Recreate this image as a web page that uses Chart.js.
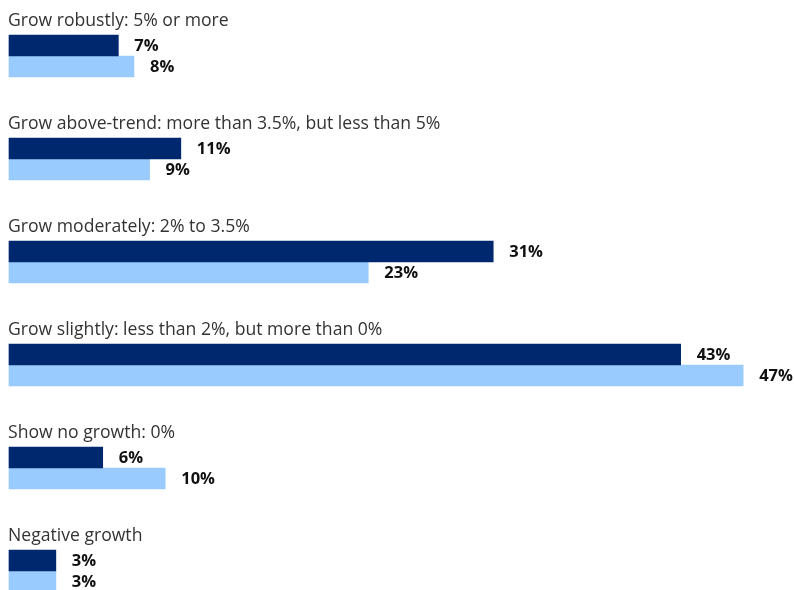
<!DOCTYPE html>
<html lang="en">
<head>
<meta charset="UTF-8">
<title>Growth expectations</title>
<script src="https://cdn.jsdelivr.net/npm/chart.js@4/dist/chart.umd.min.js"></script>
<style>
  html, body { margin: 0; padding: 0; background: #fff; }
  #wrap { width: 794px; height: 590px; position: relative; }
</style>
</head>
<body>
<div id="wrap"><canvas id="chart"></canvas></div>
<script>
// categories and answer shares (%)
const categories = [
  'Grow robustly: 5% or more',
  'Grow above-trend: more than 3.5%, but less than 5%',
  'Grow moderately: 2% to 3.5%',
  'Grow slightly: less than 2%, but more than 0%',
  'Show no growth: 0%',
  'Negative growth'
];
const latestShares = [7, 11, 31, 43, 6, 3];
const previousShares = [8, 9, 23, 47, 10, 3];

const darkBlue = '#00286e';
const lightBlue = '#9acbff';
const fontFamily = '"Open Sans", "Noto Sans", sans-serif';

// writes the category name above each pair of bars and the value to the right of each bar
const barLabels = {
  id: 'barLabels',
  afterDatasetsDraw(chart) {
    const ctx = chart.ctx;
    const yScale = chart.scales.y;
    ctx.save();
    ctx.textBaseline = 'middle';
    ctx.textAlign = 'left';

    ctx.font = '17.6px ' + fontFamily;
    ctx.fillStyle = '#333';
    categories.forEach((name, i) => {
      ctx.fillText(name, 8, yScale.getPixelForValue(i) - 35.5);
    });

    ctx.font = 'bold 16.5px ' + fontFamily;
    ctx.fillStyle = '#111';
    chart.data.datasets.forEach((ds, d) => {
      chart.getDatasetMeta(d).data.forEach((bar, i) => {
        ctx.fillText(ds.data[i] + '%', bar.x + 16, bar.y + 1);
      });
    });
    ctx.restore();
  }
};

new Chart(document.getElementById('chart'), {
  type: 'bar',
  data: {
    labels: categories,
    datasets: [
      { label: 'Latest', data: latestShares, backgroundColor: darkBlue },
      { label: 'Previous', data: previousShares, backgroundColor: lightBlue }
    ]
  },
  options: {
    indexAxis: 'y',
    responsive: true,
    maintainAspectRatio: false,
    animation: false,
    barThickness: 21,
    clip: false,
    layout: { padding: { left: 9, right: 4, top: 56, bottom: 19 } },
    scales: {
      x: { display: false, min: 0, max: 50 },
      y: { display: false, offset: false }
    },
    plugins: {
      legend: { display: false },
      tooltip: { enabled: false }
    }
  },
  plugins: [barLabels]
});
</script>
</body>
</html>
